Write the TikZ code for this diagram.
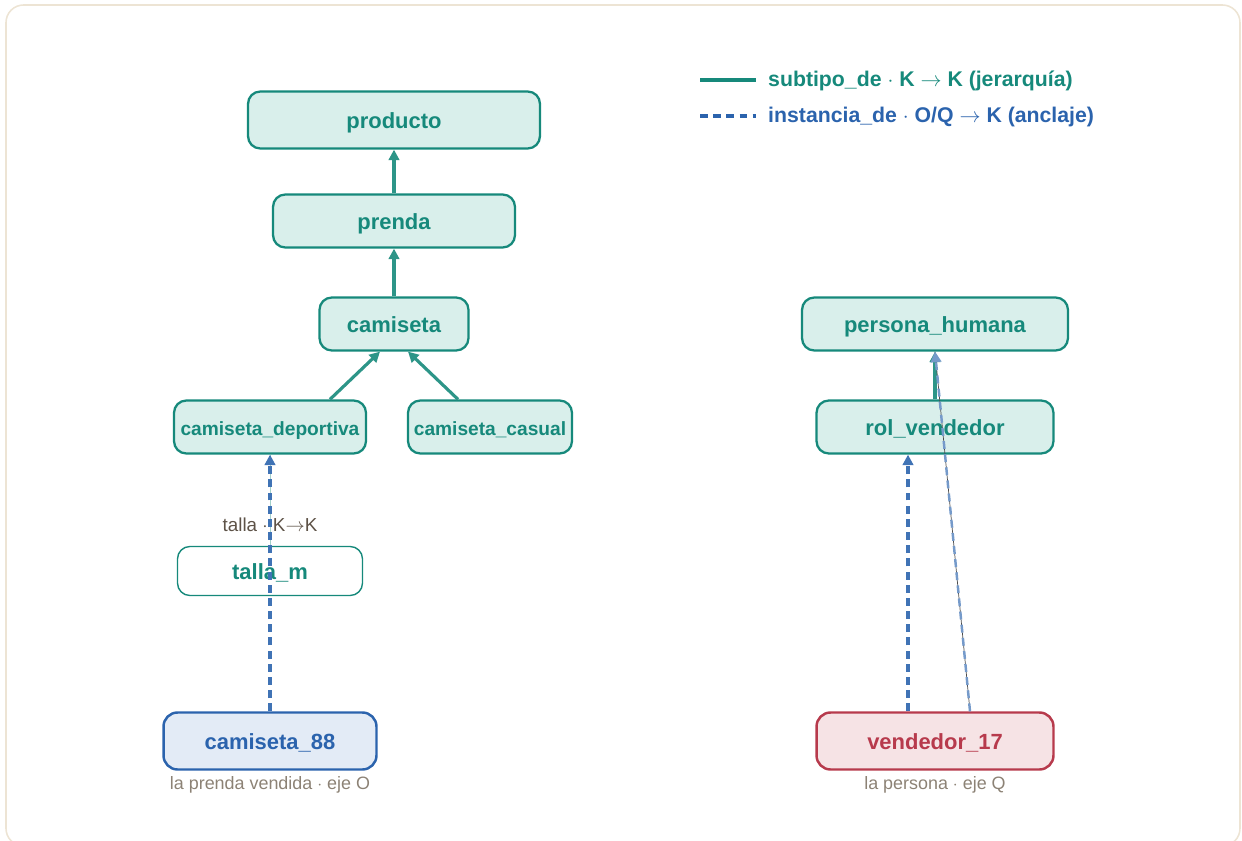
\documentclass[tikz,border=0pt]{standalone}
\usepackage{fontspec}
\setmainfont{Liberation Sans}
\usetikzlibrary{arrows.meta,calc}

\definecolor{kteal}{HTML}{16897B}
\definecolor{kfill}{HTML}{D9EFEB}
\definecolor{oblue}{HTML}{2B63AD}
\definecolor{ofill}{HTML}{E3EBF6}
\definecolor{qred}{HTML}{B73A4C}
\definecolor{qfill}{HTML}{F6E3E5}
\definecolor{ltext}{HTML}{5D5247}
\definecolor{ctext}{HTML}{8C8275}
\definecolor{framec}{HTML}{EDE4D4}

\begin{document}
\begin{tikzpicture}[x=0.02cm, y=-0.02cm,
    kbox/.style={draw=kteal, fill=kfill, line width=1.3pt, rounded corners=7pt,
      text=kteal, font=\bfseries\fontsize{12.5}{14}\selectfont, minimum height=1.06cm,
      text height=10.5pt, text depth=0.5pt},
    obox/.style={draw=oblue, fill=ofill, line width=1.4pt, rounded corners=8pt,
      text=oblue, font=\bfseries\fontsize{12.5}{14}\selectfont, minimum height=1.14cm,
      text height=10.5pt, text depth=0.5pt},
    qbox/.style={draw=qred, fill=qfill, line width=1.4pt, rounded corners=8pt,
      text=qred, font=\bfseries\fontsize{12.5}{14}\selectfont, minimum height=1.14cm,
      text height=10.5pt, text depth=0.5pt},
    subtipo/.style={draw=kteal!90, line width=1.8pt, -{Triangle[length=6pt,width=6pt]}},
    instancia/.style={draw=oblue!90, line width=1.8pt, dash pattern=on 4.5pt off 3pt,
      -{Triangle[length=6pt,width=6pt]}},
    caption/.style={text=ctext, font=\fontsize{10.2}{12}\selectfont}]

  % frame
  \useasboundingbox (0,0) rectangle (1242,841);
  \draw[framec, line width=0.9pt, rounded corners=10pt] (6,5) rectangle (1240,846);

  % legend
  \coordinate (lega) at (700,80);
  \coordinate (legb) at (756,80);
  \coordinate (legc) at (700,116);
  \coordinate (legd) at (756,116);
  \draw[kteal, line width=2pt] (lega) -- (legb);
  \draw[oblue, line width=2pt, dash pattern=on 4.5pt off 3pt] (legc) -- (legd);
  \node[anchor=west, text=kteal, font=\bfseries\fontsize{12.1}{14}\selectfont] (legk) at (762,81)
    {subtipo\_de $\cdot$ K $\rightarrow$ K (jerarquía)};
  \node[anchor=west, text=oblue, font=\bfseries\fontsize{12.1}{14}\selectfont] (lego) at (762,117)
    {instancia\_de $\cdot$ O/Q $\rightarrow$ K (anclaje)};

  % K hierarchy, left
  \node[kbox, minimum width=5.84cm, minimum height=1.14cm] (producto) at (394,120) {producto};
  \node[kbox, minimum width=4.84cm] (prenda) at (394,221) {prenda};
  \node[kbox, minimum width=2.98cm] (camiseta) at (394,324) {camiseta};
  \node[kbox, minimum width=3.84cm, inner sep=1pt, font=\bfseries\fontsize{10.9}{12}\selectfont]
    (deportiva) at (270,427) {camiseta\_deportiva};
  \node[kbox, minimum width=3.28cm, inner sep=1pt, font=\bfseries\fontsize{10.9}{12}\selectfont]
    (casual) at (490,427) {camiseta\_casual};
  \node[kbox, fill=white, line width=0.8pt, minimum width=3.70cm, minimum height=0.98cm]
    (tallam) at (270,571) {talla\_m};

  % K hierarchy, right
  \node[kbox, minimum width=5.32cm] (persona) at (935,324) {persona\_humana};
  \node[kbox, minimum width=4.74cm] (rol) at (935,427) {rol\_vendedor};

  % instances
  \node[obox, minimum width=4.26cm] (cam88) at (270,741) {camiseta\_88};
  \node[qbox, minimum width=4.74cm] (vend17) at (935,741) {vendedor\_17};
  \node[caption] (cap88) at (270,785) {la prenda vendida $\cdot$ eje O};
  \node[caption] (cap17) at (935,785) {la persona $\cdot$ eje Q};

  % subtipo_de
  \draw[subtipo] (prenda) -- (producto);
  \draw[subtipo] (camiseta) -- (prenda);
  \draw[subtipo] ($(deportiva.north)+(60,0)$) -- ($(camiseta.south)+(-14,0)$);
  \draw[subtipo] ($(casual.north)+(-32,0)$) -- ($(camiseta.south)+(14,0)$);
  \draw[subtipo] (rol) -- (persona);
  \draw[kteal!40, line width=0.5pt] (tallam) -- (deportiva);
  \node[text=ltext, font=\fontsize{10.7}{12}\selectfont] (tallalab) at (270,525) {talla $\cdot$ K$\rightarrow$K};

  % instancia_de
  \draw[instancia] (cam88) -- (deportiva);
  \draw[instancia] ($(vend17.north)+(-27,0)$) -- ($(rol.south)+(-27,0)$);
  \draw[black!70, line width=0.4pt] ($(vend17.north)+(35,0)$) -- (persona.south);
  \draw[instancia, draw=oblue!65, line width=1.4pt] ($(vend17.north)+(35,0)$) -- (persona.south);
\end{tikzpicture}
\end{document}
